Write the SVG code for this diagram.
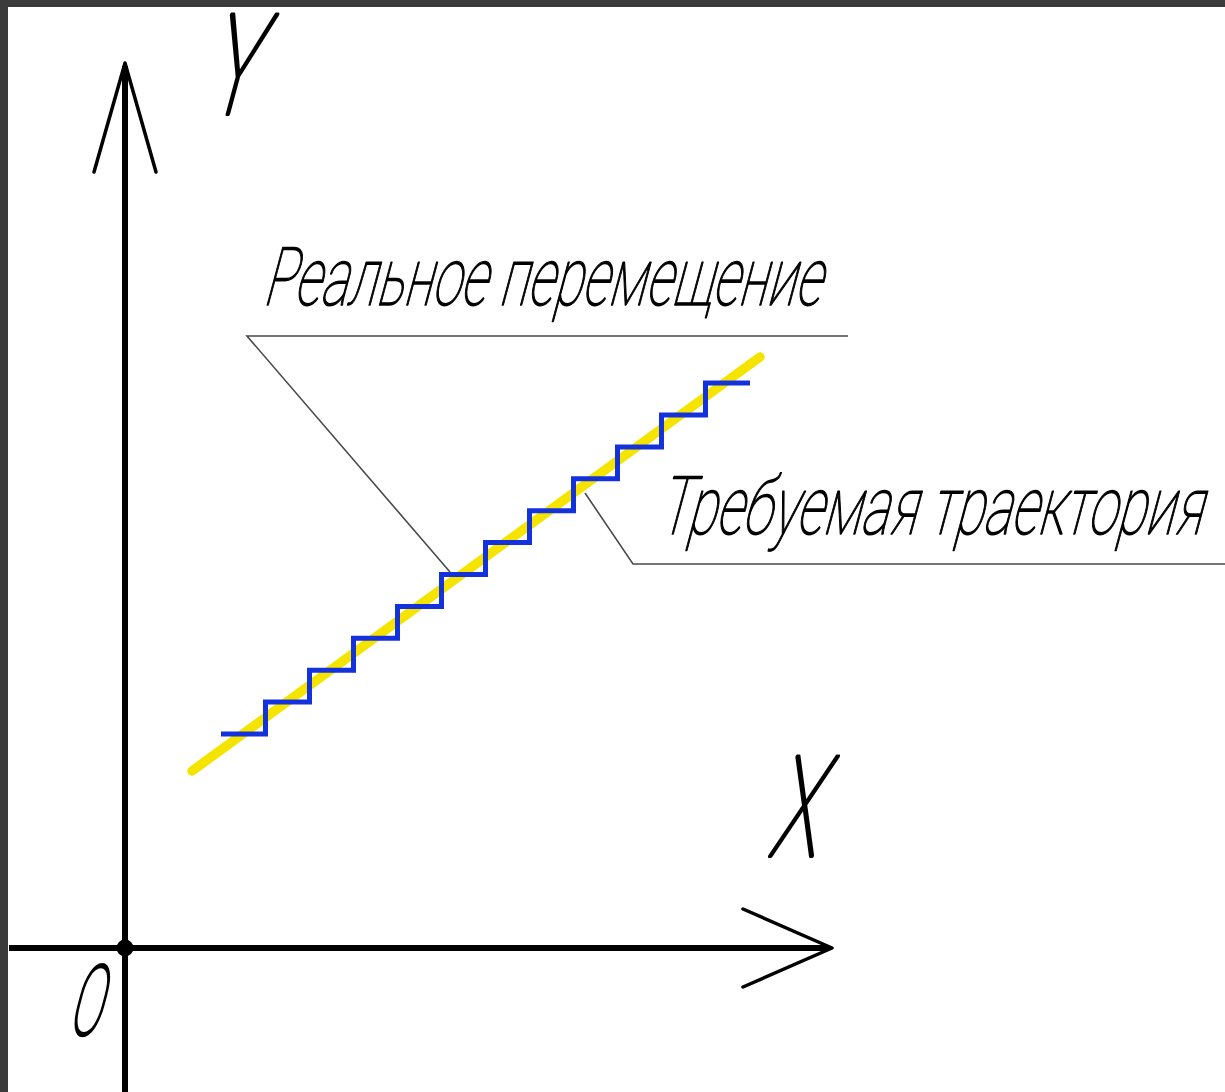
<svg xmlns="http://www.w3.org/2000/svg" width="1225" height="1092" viewBox="0 0 1225 1092">
<style>
.axis{stroke:#000;stroke-width:6;fill:none;stroke-linecap:butt}
.head{stroke:#000;stroke-width:3.5;fill:none;stroke-linecap:round;stroke-linejoin:round}
.lbl{font-family:Roboto,"Liberation Sans","DejaVu Sans",sans-serif;font-weight:100;fill:#000;stroke:#000;stroke-linejoin:round}
.big{font-size:140px;stroke-width:3.8}
.note{font-size:81px;stroke-width:1.4}
.leader{stroke:#4a4a4a;stroke-width:1.6;fill:none}
</style>
<rect x="0" y="0" width="1225" height="1092" fill="#fff"/>
<g id="border" fill="#3b3b3b">
<rect x="0" y="0" width="1225" height="7"/>
<rect x="0" y="0" width="8" height="1092"/>
</g>
<g id="axis-y">
<line class="axis" x1="125" y1="66" x2="125" y2="1092"/>
<polyline class="head" points="94,172 125,63 156,172"/>
<text class="lbl big" transform="translate(228,114) skewX(-15)" text-anchor="middle" textLength="50" lengthAdjust="spacingAndGlyphs">Y</text>
</g>
<g id="axis-x">
<line class="axis" x1="9" y1="948" x2="829" y2="948"/>
<polyline class="head" points="743,909 832,948 743,987"/>
<text class="lbl big" transform="translate(791,856) skewX(-15)" text-anchor="middle" textLength="48" lengthAdjust="spacingAndGlyphs">X</text>
</g>
<g id="origin">
<circle cx="125" cy="948" r="8.5" fill="#000"/>
<text class="lbl" style="font-size:98px;stroke-width:2.8" transform="translate(83,1035) skewX(-15)" text-anchor="middle" textLength="32" lengthAdjust="spacingAndGlyphs">O</text>
</g>
<g id="required-trajectory">
<line x1="192" y1="771" x2="760" y2="357" stroke="#f5e400" stroke-width="9.5" stroke-linecap="round"/>
</g>
<g id="real-movement">
<path d="M221,734 H265.5 V702.1 H309.5 V670.2 H353.5 V638.3 H397.5 V606.4 H441.5 V574.5 H485.5 V542.6 H529.5 V510.7 H573.5 V478.8 H617.5 V446.9 H661.5 V415 H705.5 V383.1 H750" fill="none" stroke="#1432dc" stroke-width="5" stroke-linejoin="miter"/>
</g>
<g id="connectors">
<polyline class="leader" points="450,572 247,336 848,336"/>
<polyline class="leader" points="585,493 633,564 1225,564"/>
</g>
<g id="label-real">
<text class="lbl note" transform="translate(262,305) skewX(-15)" textLength="558" lengthAdjust="spacingAndGlyphs">Реальное перемещение</text>
</g>
<g id="label-required">
<text class="lbl note" transform="translate(657,534) skewX(-15)" textLength="544" lengthAdjust="spacingAndGlyphs">Требуемая траектория</text>
</g>
</svg>
